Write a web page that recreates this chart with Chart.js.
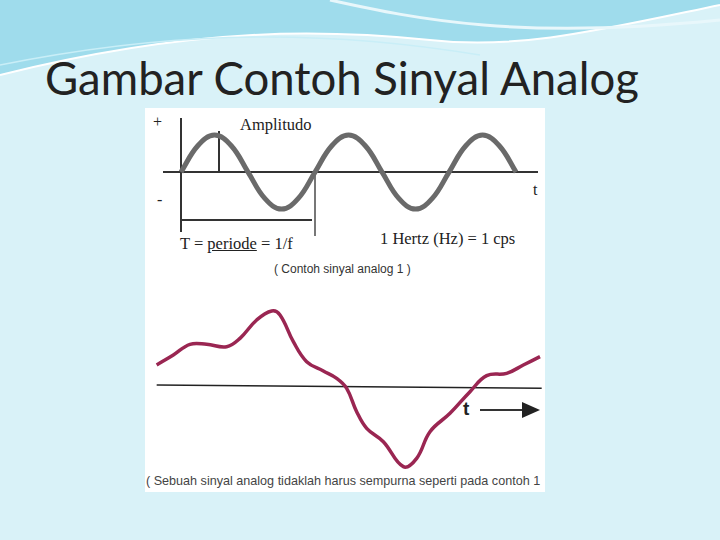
<!DOCTYPE html>
<html>
<head>
<meta charset="utf-8">
<script src="https://cdn.jsdelivr.net/npm/chart.js@4"></script>
<style>
  body { margin: 0; width: 720px; height: 540px; background: #d9f2f8; position: relative; overflow: hidden; font-family: "Liberation Serif", serif; }
  .abs { position: absolute; }
  #title { left: 45px; top: 50px; font: 45.5px Lato, "Open Sans", sans-serif; color: #222; white-space: nowrap; }
  #img { left: 145px; top: 108px; width: 400px; height: 384px; background: #fff; }
  .ln { position: absolute; background: #333; }
  .txt { position: absolute; white-space: nowrap; color: #222; }
  canvas { position: absolute; }
</style>
</head>
<body>
<svg class="abs" style="left:0;top:0" width="720" height="90">
  <path d="M0,0 H720 V5 C600,30 520,50 430,40 C330,30 200,25 0,75 Z" fill="#9fdcec"/>
  <path d="M0,75 C200,25 330,30 430,40 C520,50 600,30 720,5" fill="none" stroke="#fff" stroke-width="2"/>
  <path d="M330,0 C420,20 520,40 720,20" fill="none" stroke="#e8f7fb" stroke-width="3"/>
  <path d="M0,65 C150,35 300,25 480,55" fill="none" stroke="#c9eef7" stroke-width="1.5"/>
</svg>
<div id="title" class="abs">Gambar Contoh Sinyal Analog</div>
<div id="img" class="abs"></div>

<!-- top figure decorations -->
<div class="ln" style="left:163px;top:171px;width:375px;height:2px"></div>
<div class="ln" style="left:180px;top:118px;width:1.5px;height:114px"></div>
<div class="ln" style="left:314px;top:172px;width:1.5px;height:64px;background:#777"></div>
<div class="ln" style="left:182px;top:219px;width:130px;height:2px"></div>
<div class="ln" style="left:218px;top:131px;width:1.5px;height:41px"></div>
<div class="txt" style="left:153px;top:113px;font-size:16px">+</div>
<div class="txt" style="left:157px;top:191px;font-size:16px">-</div>
<div class="txt" style="left:240px;top:115px;font-size:16.5px">Amplitudo</div>
<div class="txt" style="left:533px;top:181px;font-size:16px">t</div>
<div class="txt" style="left:180px;top:234px;font-size:16.5px">T = <u>periode</u> = 1/f</div>
<div class="txt" style="left:380px;top:229px;font-size:16.5px">1 Hertz (Hz) = 1 cps</div>
<div class="txt" style="left:274px;top:262px;font:12px 'Liberation Sans',sans-serif;color:#333">( Contoh sinyal analog 1 )</div>

<!-- bottom figure decorations -->
<div class="txt" style="left:463px;top:398px;font:bold 19px 'Liberation Sans',sans-serif">t</div>
<div class="ln" style="left:480px;top:409px;width:45px;height:2px"></div>
<svg class="abs" style="left:522px;top:402px" width="20" height="16"><path d="M0,0 L18,8 L0,16 Z" fill="#222"/></svg>
<div class="txt" style="left:146px;top:474px;font:12.6px 'Liberation Sans',sans-serif;color:#444">( Sebuah sinyal analog tidaklah harus sempurna seperti pada contoh 1</div>

<canvas id="sineChart" style="left:145px;top:108px;width:400px;height:160px"></canvas>
<canvas id="freeChart" style="left:145px;top:285px;width:400px;height:205px"></canvas>

<script>
// top signal: time in periods, value in amplitude units
const sineT = [0, 0.125, 0.25, 0.375, 0.5, 0.625, 0.75, 0.875, 1, 1.125, 1.25, 1.375, 1.5, 1.625, 1.75, 1.875, 2, 2.125, 2.25, 2.375, 2.5];
const sineV = [0, 0.71, 1, 0.71, 0, -0.71, -1, -0.71, 0, 0.71, 1, 0.71, 0, -0.71, -1, -0.71, 0, 0.71, 1, 0.71, 0];

// bottom signal: free-form analog wave
const freeX = [50, 100, 150, 200, 260, 300, 350, 395, 420, 460, 500, 550, 590, 620, 650, 680, 730, 790, 830, 870, 930, 990, 1040, 1100, 1150, 1200];
const freeV = [60, 90, 122, 122, 115, 140, 195, 222, 210, 130, 70, 42, 20, -10, -80, -130, -170, -245, -220, -140, -85, -20, 28, 35, 60, 85];
const baseX = [50, 1205];
const baseV = [0, -10];

function bareOptions(xmin, xmax, ymin, ymax) {
    return {
        responsive: false,
        animation: false,
        layout: { padding: 0 },
        plugins: { legend: { display: false }, tooltip: { enabled: false } },
        elements: { point: { radius: 0 } },
        scales: {
            x: { type: 'linear', min: xmin, max: xmax, display: false },
            y: { min: ymin, max: ymax, display: false }
        }
    };
}

function setup(id, w, h) {
    const c = document.getElementById(id);
    c.width = w; c.height = h;
    return c;
}

new Chart(setup('sineChart', 400, 160), {
    type: 'line',
    data: {
        datasets: [{
            data: sineT.map((t, i) => ({ x: t, y: sineV[i] })),
            borderColor: '#6a6a6a',
            borderWidth: 5,
            tension: 0.4
        }]
    },
    options: bareOptions(-0.269, 2.716, -2.59, 1.73)
});

new Chart(setup('freeChart', 400, 205), {
    type: 'line',
    data: {
        datasets: [{
            data: freeX.map((x, i) => ({ x: x, y: freeV[i] })),
            borderColor: '#9a2652',
            borderWidth: 3.5,
            tension: 0.4
        }, {
            data: baseX.map((x, i) => ({ x: x, y: baseV[i] })),
            borderColor: '#222',
            borderWidth: 1.5,
            tension: 0
        }]
    },
    options: bareOptions(15, 1215, -315, 300)
});
</script>
</body>
</html>
